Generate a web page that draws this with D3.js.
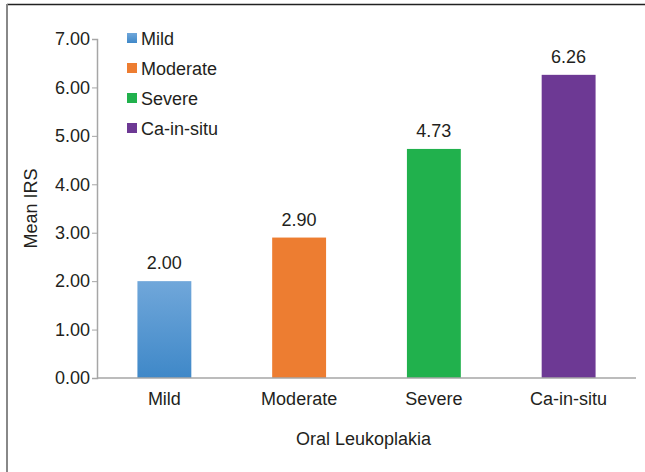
<!DOCTYPE html>
<html><head><meta charset="utf-8">
<script src="https://cdn.jsdelivr.net/npm/d3@7"></script>
<style>body{margin:0;background:#fff}svg{display:block;font-family:"Liberation Sans",Arial,sans-serif}</style>
</head><body>
<script>
const categories = ["Mild", "Moderate", "Severe", "Ca-in-situ"];
const values = [2.00, 2.90, 4.73, 6.26];
const colors = ["#5797d3", "#ed7d31", "#21b14d", "#6d3994"];
const yTicks = [0, 1, 2, 3, 4, 5, 6, 7];
const xTitle = "Oral Leukoplakia";
const yTitle = "Mean IRS";

const W = 645, H = 472;
const FS = 18;
const m = {left: 97, right: 9, top: 39, bottom: 94};
const svg = d3.select("body").append("svg").attr("width", W).attr("height", H);

// frame
svg.append("line").attr("x1", 7).attr("x2", W).attr("y1", 4.5).attr("y2", 4.5).attr("stroke", "#222").attr("stroke-width", 1.5);
svg.append("line").attr("x1", 7).attr("x2", 7).attr("y1", 4).attr("y2", H).attr("stroke", "#888").attr("stroke-width", 2);

const x = d3.scaleBand().domain(categories).range([m.left, W - m.right]).paddingInner(0.6).paddingOuter(0.3);
const y = d3.scaleLinear().domain([0, 7]).range([H - m.bottom, m.top]);

const defs = svg.append("defs");
const grad = defs.append("linearGradient").attr("id", "g0").attr("x1", 0).attr("x2", 0).attr("y1", 0).attr("y2", 1);
grad.append("stop").attr("offset", "0%").attr("stop-color", "#70a7da");
grad.append("stop").attr("offset", "100%").attr("stop-color", "#3f88c8");

// y axis
const ya = svg.append("g").attr("transform", `translate(${m.left},0)`)
  .call(d3.axisLeft(y).tickValues(yTicks).tickFormat(d3.format(".2f")).tickSize(5).tickPadding(2));
ya.select(".domain").attr("stroke", "#a6a6a6").attr("stroke-width", 1.5);
ya.selectAll(".tick line").attr("stroke", "#a6a6a6");
ya.selectAll(".tick text").attr("font-size", FS).attr("fill", "#231f20").attr("font-family", "Liberation Sans, Arial, sans-serif");

// bars
svg.selectAll("rect.bar").data(values).enter().append("rect").attr("class", "bar")
  .attr("x", (d, i) => x(categories[i])).attr("width", x.bandwidth())
  .attr("y", d => y(d)).attr("height", d => y(0) - y(d))
  .attr("fill", (d, i) => i === 0 ? "url(#g0)" : colors[i]);

// x axis
const xa = svg.append("g").attr("transform", `translate(0,${y(0)})`)
  .call(d3.axisBottom(x).tickSize(0).tickPadding(14).tickSizeOuter(0));
xa.select(".domain").attr("stroke", "#a6a6a6").attr("stroke-width", 1.5).attr("d", `M${m.left},0H${W - m.right}`);
xa.selectAll(".tick text").attr("font-size", FS).attr("fill", "#231f20").attr("font-family", "Liberation Sans, Arial, sans-serif");

// value labels
svg.selectAll("text.val").data(values).enter().append("text").attr("class", "val")
  .attr("x", (d, i) => x(categories[i]) + x.bandwidth() / 2).attr("y", d => y(d) - 12)
  .attr("text-anchor", "middle").attr("font-size", FS).attr("fill", "#231f20")
  .text(d => d.toFixed(2));

// legend
const lg = svg.append("g").attr("transform", "translate(127,33)");
categories.forEach((c, i) => {
  lg.append("rect").attr("x", 0).attr("y", i * 30).attr("width", 10).attr("height", 10).attr("fill", i === 0 ? "url(#g0)" : colors[i]);
  lg.append("text").attr("x", 14).attr("y", i * 30 + 12).attr("font-size", FS).attr("fill", "#231f20").text(c);
});

// titles
svg.append("text").attr("x", (m.left + W - m.right) / 2 - 3).attr("y", 445).attr("text-anchor", "middle")
  .attr("font-size", FS).attr("fill", "#231f20").text(xTitle);
svg.append("text").attr("transform", `translate(37,${(y(0) + y(7)) / 2}) rotate(-90)`).attr("text-anchor", "middle")
  .attr("font-size", FS).attr("fill", "#231f20").text(yTitle);
</script>
</body></html>
